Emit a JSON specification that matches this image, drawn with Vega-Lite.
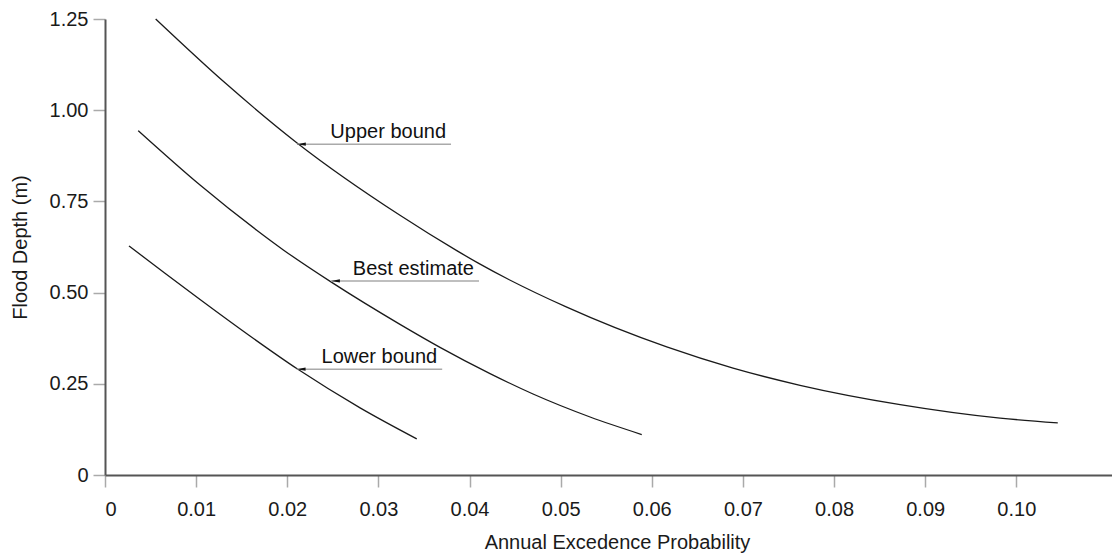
{
  "$schema": "https://vega.github.io/schema/vega-lite/v6.json",
  "width": 1007,
  "height": 456,
  "autosize": "none",
  "padding": {"left": 105, "top": 19, "right": 0, "bottom": 80},
  "background": "white",
  "config": {
    "view": {"stroke": null},
    "font": "Liberation Sans",
    "axis": {
      "grid": false,
      "labelFont": "Liberation Sans",
      "titleFont": "Liberation Sans",
      "labelFontSize": 20,
      "titleFontSize": 20,
      "labelColor": "#1a1a1a",
      "titleColor": "#1a1a1a",
      "titleFontWeight": "normal",
      "domainColor": "#555555",
      "domainWidth": 2,
      "tickColor": "#aaaaaa",
      "tickWidth": 1.5,
      "tickSize": 12
    }
  },
  "datasets": {
    "curves": [
      {"series": "Upper bound", "x": 0.00556, "y": 1.25},
      {"series": "Upper bound", "x": 0.01317, "y": 1.075},
      {"series": "Upper bound", "x": 0.02104, "y": 0.911},
      {"series": "Upper bound", "x": 0.03237, "y": 0.712},
      {"series": "Upper bound", "x": 0.0386, "y": 0.615},
      {"series": "Upper bound", "x": 0.04101, "y": 0.58},
      {"series": "Upper bound", "x": 0.05067, "y": 0.46},
      {"series": "Upper bound", "x": 0.06164, "y": 0.351},
      {"series": "Upper bound", "x": 0.06892, "y": 0.293},
      {"series": "Upper bound", "x": 0.07627, "y": 0.246},
      {"series": "Upper bound", "x": 0.08725, "y": 0.193},
      {"series": "Upper bound", "x": 0.09822, "y": 0.156},
      {"series": "Upper bound", "x": 0.10455, "y": 0.143},
      {"series": "Best estimate", "x": 0.00365, "y": 0.944},
      {"series": "Best estimate", "x": 0.01043, "y": 0.795},
      {"series": "Best estimate", "x": 0.01665, "y": 0.671},
      {"series": "Best estimate", "x": 0.01957, "y": 0.617},
      {"series": "Best estimate", "x": 0.02488, "y": 0.528},
      {"series": "Best estimate", "x": 0.03237, "y": 0.413},
      {"series": "Best estimate", "x": 0.03676, "y": 0.35},
      {"series": "Best estimate", "x": 0.04225, "y": 0.278},
      {"series": "Best estimate", "x": 0.04697, "y": 0.222},
      {"series": "Best estimate", "x": 0.05323, "y": 0.159},
      {"series": "Best estimate", "x": 0.0589, "y": 0.111},
      {"series": "Lower bound", "x": 0.00263, "y": 0.628},
      {"series": "Lower bound", "x": 0.00658, "y": 0.553},
      {"series": "Lower bound", "x": 0.01043, "y": 0.481},
      {"series": "Lower bound", "x": 0.01591, "y": 0.381},
      {"series": "Lower bound", "x": 0.02121, "y": 0.289},
      {"series": "Lower bound", "x": 0.02799, "y": 0.184},
      {"series": "Lower bound", "x": 0.03421, "y": 0.099}
    ],
    "notes": [
      {"label": "Upper bound", "x": 0.02107, "xe": 0.03797, "y": 0.907},
      {"label": "Best estimate", "x": 0.02481, "xe": 0.04104, "y": 0.532},
      {"label": "Lower bound", "x": 0.02104, "xe": 0.0370, "y": 0.29}
    ]
  },
  "layer": [
    {
      "data": {"name": "curves"},
      "mark": {"type": "line", "color": "#1a1a1a", "strokeWidth": 1.3, "interpolate": "monotone"},
      "encoding": {
        "x": {
          "field": "x", "type": "quantitative",
          "scale": {"domain": [0, 0.1105], "nice": false, "zero": false},
          "axis": {
            "title": "Annual Excedence Probability",
            "values": [0, 0.01, 0.02, 0.03, 0.04, 0.05, 0.06, 0.07, 0.08, 0.09, 0.1],
            "labelExpr": "datum.value == 0 ? '0' : format(datum.value, '.2f')",
            "labelPadding": 12,
            "titleX": 512,
            "titleY": 73,
            "titleBaseline": "alphabetic"
          }
        },
        "y": {
          "field": "y", "type": "quantitative",
          "scale": {"domain": [0, 1.25], "nice": false},
          "axis": {
            "title": "Flood Depth (m)",
            "values": [0, 0.25, 0.5, 0.75, 1, 1.25],
            "labelExpr": "datum.value == 0 ? '0' : format(datum.value, '.2f')",
            "labelPadding": 5,
            "titleX": -79,
            "titleY": 228,
            "titleBaseline": "alphabetic"
          }
        },
        "detail": {"field": "series"}
      }
    },
    {
      "data": {"name": "notes"},
      "mark": {"type": "rule", "color": "#aaaaaa", "strokeWidth": 1.5},
      "encoding": {
        "x": {"field": "x", "type": "quantitative", "title": "Annual Excedence Probability"},
        "x2": {"field": "xe"},
        "y": {"field": "y", "type": "quantitative", "title": "Flood Depth (m)"}
      }
    },
    {
      "data": {"name": "notes"},
      "mark": {"type": "point", "shape": "M0,0L2.2,-0.4L2.2,0.4Z", "size": 64, "filled": true, "color": "#111111", "opacity": 1, "strokeWidth": 0},
      "encoding": {
        "x": {"field": "x", "type": "quantitative", "title": "Annual Excedence Probability"},
        "y": {"field": "y", "type": "quantitative", "title": "Flood Depth (m)"}
      }
    },
    {
      "data": {"name": "notes"},
      "mark": {"type": "text", "align": "right", "baseline": "alphabetic", "dx": -5, "dy": -6, "fontSize": 20, "font": "Liberation Sans", "color": "#111111"},
      "encoding": {
        "x": {"field": "xe", "type": "quantitative", "title": "Annual Excedence Probability"},
        "y": {"field": "y", "type": "quantitative", "title": "Flood Depth (m)"},
        "text": {"field": "label"}
      }
    }
  ]
}
